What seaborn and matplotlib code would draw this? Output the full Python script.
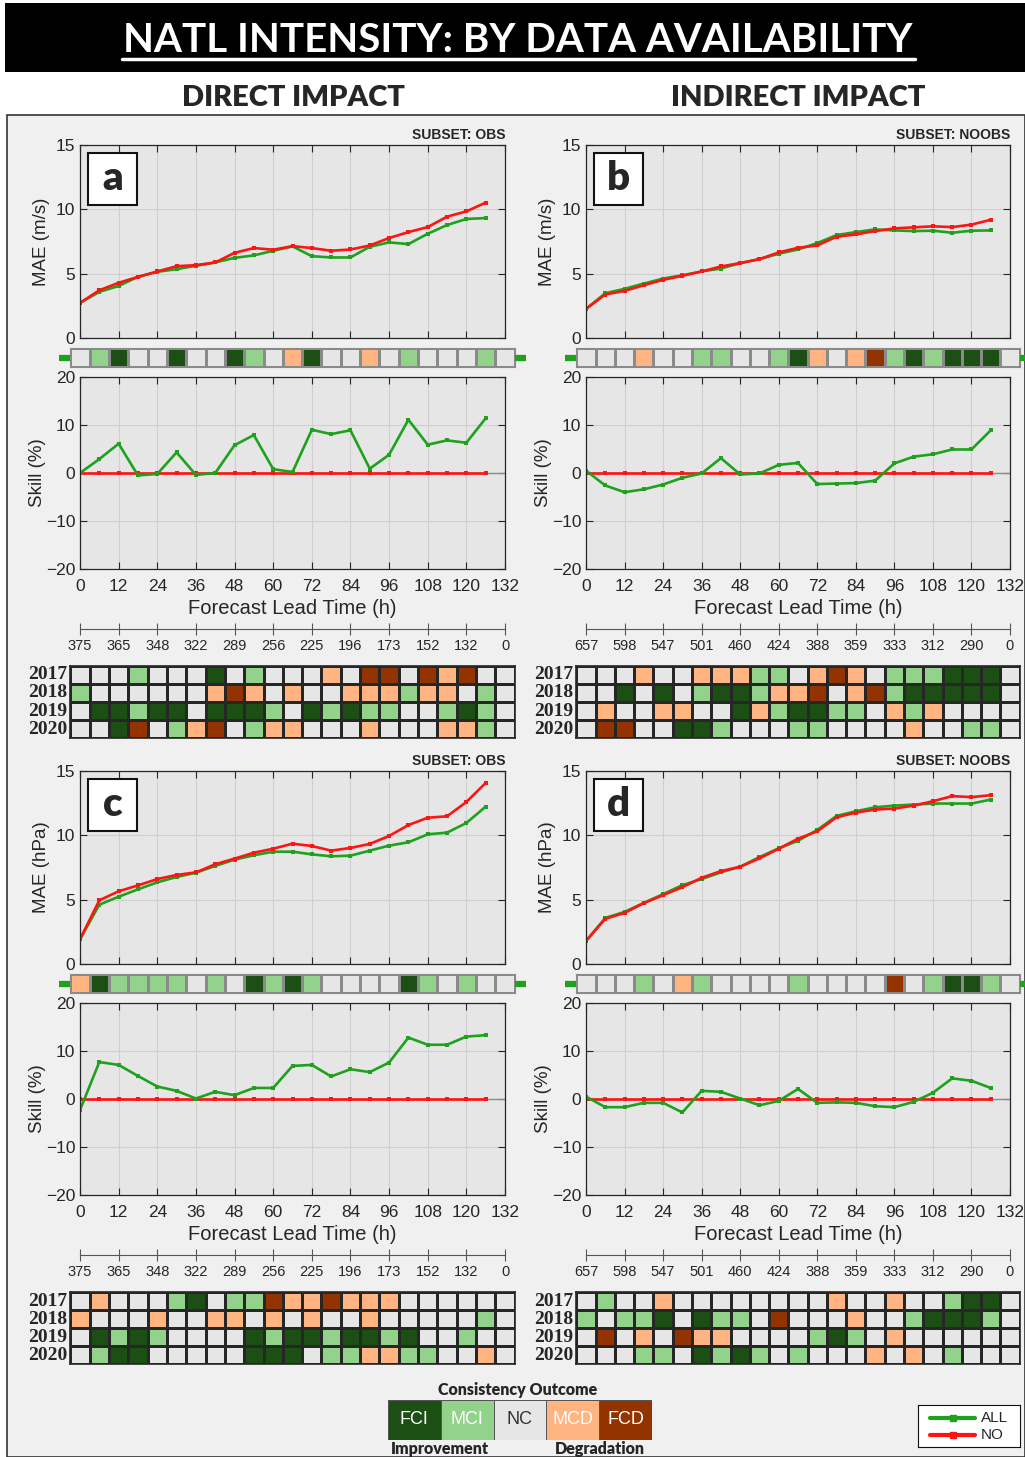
import numpy as np
import seaborn as sns
import matplotlib.pyplot as plt
from matplotlib.colors import ListedColormap
from matplotlib.patches import Rectangle
from matplotlib.lines import Line2D

# ---------------- data ----------------
lead = [0, 6, 12, 18, 24, 30, 36, 42, 48, 54, 60, 66, 72, 78, 84, 90, 96, 102, 108, 114, 120, 126]
years = ["2017", "2018", "2019", "2020"]
outcomes = ["FCI", "MCI", "NC", "MCD", "FCD"]
outcome_code = {"F": 0, "L": 1, "N": 2, "M": 3, "D": 4}
sec_obs = ["375", "365", "348", "322", "289", "256", "225", "196", "173", "152", "132", "0"]
sec_noobs = ["657", "598", "547", "501", "460", "424", "388", "359", "333", "312", "290", "0"]

skill_no = [0, 0, 0, 0, 0, 0, 0, 0, 0, 0, 0, 0, 0, 0, 0, 0, 0, 0, 0, 0, 0, 0]

# panel a: Vmax, OBS
a_mae_all = [2.73, 3.58, 4.05, 4.75, 5.14, 5.35, 5.61, 5.87, 6.23, 6.42, 6.78, 7.12,
             6.36, 6.26, 6.26, 7.09, 7.43, 7.30, 8.10, 8.78, 9.25, 9.32]
a_mae_no = [2.73, 3.71, 4.29, 4.75, 5.17, 5.58, 5.66, 5.87, 6.62, 6.99, 6.86, 7.14,
            6.99, 6.78, 6.88, 7.19, 7.77, 8.23, 8.62, 9.43, 9.84, 10.52]
a_skill_all = [0.0, 2.9, 6.1, -0.5, -0.2, 4.3, -0.4, 0.0, 5.8, 7.9, 0.8, 0.2,
               9.0, 8.1, 8.9, 0.9, 3.8, 11.1, 5.9, 6.8, 6.3, 11.4]
a_strip = "NLFNNFNNFLNMFNNMNLNNNLN"
a_years = ["NNNLNNNFNLNNNMNDDNDMDNN",
           "LNNNNNNMDMNMNNMMMLMMNLN",
           "NFFLFFNFFFLNFLFLLNNLFLN",
           "NNFDNLMDNLMMNNNMNNNMMLN"]

# panel b: Vmax, NOOBS
b_mae_all = [2.26, 3.48, 3.82, 4.23, 4.62, 4.88, 5.17, 5.40, 5.82, 6.13, 6.55, 6.88,
             7.38, 8.00, 8.23, 8.44, 8.36, 8.31, 8.34, 8.18, 8.34, 8.36]
b_mae_no = [2.26, 3.38, 3.66, 4.10, 4.52, 4.83, 5.17, 5.56, 5.82, 6.13, 6.65, 7.01,
            7.19, 7.87, 8.05, 8.31, 8.52, 8.60, 8.68, 8.62, 8.81, 9.19]
b_skill_all = [0.5, -2.6, -4.0, -3.4, -2.4, -1.0, -0.1, 3.1, -0.3, -0.1, 1.7, 2.1,
               -2.3, -2.2, -2.1, -1.6, 2.0, 3.4, 3.9, 4.9, 4.9, 8.9]
b_strip = "NNNMNNLLNNLFMNMDLFLFFFN"
b_years = ["NNNMNNMMMLLNMDMNLLLFFFN",
           "NNFNFNLFFLMMDNMDLFFFFFN",
           "NMNNMMNNFMLFFLLNMLMNNNN",
           "NDDNNFFLNNNLLNNNNMNNLLN"]

# panel c: MSLP, OBS
c_mae_all = [1.92, 4.61, 5.23, 5.80, 6.35, 6.76, 7.10, 7.62, 8.11, 8.45, 8.73, 8.73,
             8.52, 8.37, 8.42, 8.81, 9.20, 9.46, 10.08, 10.21, 10.96, 12.23]
c_mae_no = [1.92, 4.95, 5.65, 6.11, 6.60, 6.92, 7.12, 7.75, 8.19, 8.65, 8.96, 9.35,
            9.17, 8.81, 9.02, 9.33, 9.95, 10.80, 11.37, 11.48, 12.59, 14.07]
c_skill_all = [-2.3, 7.7, 7.1, 4.8, 2.6, 1.7, 0.1, 1.5, 0.8, 2.3, 2.3, 6.9,
               7.1, 4.7, 6.2, 5.6, 7.6, 12.8, 11.3, 11.3, 13.0, 13.3]
c_strip = "MFLLLLNLNFLFLNNNNFLNLNN"
c_years = ["NMNNNLFNLLDMMDMMMNNNNNN",
           "MNNNMNNMMNMNMNNMNNNNNLN",
           "NFLFLNNNNFLFFLFFLFNNLNN",
           "NLFFNNNNNFFFNLLMMLLNNMN"]

# panel d: MSLP, NOOBS
d_mae_all = [1.79, 3.58, 4.05, 4.75, 5.43, 6.13, 6.60, 7.12, 7.56, 8.31, 8.99, 9.58,
             10.42, 11.51, 11.87, 12.18, 12.31, 12.39, 12.47, 12.47, 12.47, 12.78]
d_mae_no = [1.79, 3.51, 3.97, 4.73, 5.35, 5.97, 6.70, 7.22, 7.56, 8.21, 8.96, 9.74,
            10.31, 11.40, 11.77, 12.00, 12.08, 12.31, 12.65, 13.05, 12.97, 13.12]
d_skill_all = [0.5, -1.7, -1.7, -0.8, -0.8, -2.8, 1.7, 1.5, 0.1, -1.3, -0.4, 2.1,
               -0.8, -0.7, -0.8, -1.5, -1.7, -0.6, 1.3, 4.3, 3.8, 2.3]
d_strip = "NNNLNMLNNNNLNNNNDNLFFLN"
d_years = ["NLNNMNNNNNNNNMNNMNNLFFN",
           "LNLLFNFLLNDNNNMNNLFFFLN",
           "NDNMNDMMNNNNLFLNMNNNNNN",
           "NNNLLNFLFLNLNNNMNMNLNNN"]

# ---------------- style ----------------
GREEN = "#1ea21e"
RED = "#ff1414"
OUT_COLORS = ["#1b4f14", "#93d28a", "#e6e6e6", "#ffb482", "#933300"]
cmap = ListedColormap(OUT_COLORS)
SANS = ["Liberation Sans", "DejaVu Sans"]
HEAD = ["Lato", "DejaVu Sans"]
SERIF = ["Liberation Serif", "DejaVu Serif"]

sns.set_style("ticks")
plt.rcParams["font.family"] = SANS
plt.rcParams["axes.edgecolor"] = "#262626"
plt.rcParams["xtick.color"] = "#262626"
plt.rcParams["ytick.color"] = "#262626"

W, H = 1025, 1457
fig = plt.figure(figsize=(W / 100, H / 100), dpi=100)
fig.patch.set_facecolor("white")


def rect(x0, y0, x1, y1):
    return [x0 / W, 1 - y1 / H, (x1 - x0) / W, (y1 - y0) / H]


def fx(x):
    return x / W


def fy(y):
    return 1 - y / H


# background boxes (behind every axes)
fig.patches.append(Rectangle((fx(5), fy(72)), (W - 5) / W, 69 / H, transform=fig.transFigure,
                             facecolor="black", edgecolor="none", zorder=-5))
fig.patches.append(Rectangle((fx(7), 0), (W - 7) / W, (H - 115) / H, transform=fig.transFigure,
                             facecolor="#f0f0f0", edgecolor="#333333", lw=1.2, zorder=-5))

fig.text(fx(518), fy(40), "NATL INTENSITY: BY DATA AVAILABILITY", color="white",
         fontsize=29, fontweight="bold", family=HEAD, ha="center", va="center")
fig.add_artist(Line2D([fx(122), fx(915)], [fy(59), fy(59)], color="white", lw=2.5))
fig.text(fx(293), fy(98), "DIRECT IMPACT", fontsize=21, fontweight="heavy", family=HEAD,
         ha="center", va="center")
fig.text(fx(798), fy(98), "INDIRECT IMPACT", fontsize=21, fontweight="heavy", family=HEAD,
         ha="center", va="center")


def style_axes(ax):
    ax.set_facecolor("#e6e6e6")
    ax.grid(True, color="#cfcfcf", lw=0.8)
    ax.set_axisbelow(True)
    ax.tick_params(direction="in", top=True, right=True, length=5, labelsize=12.5, width=0.8)
    for sp in ax.spines.values():
        sp.set_visible(True)
        sp.set_linewidth(0.9)
        sp.set_color("#262626")


def draw_panel(x0, x1, ytop, letter, subset, ylab, mae_all, mae_no, skill_all, strip,
               year_rows, sec_labels):
    # MAE
    ax = fig.add_axes(rect(x0, ytop, x1, ytop + 193))
    style_axes(ax)
    sns.lineplot(x=lead, y=mae_all, color=GREEN, marker="s", markersize=3.5,
                 markeredgewidth=0, lw=1.9, ax=ax)
    sns.lineplot(x=lead, y=mae_no, color=RED, marker="s", markersize=3.5,
                 markeredgewidth=0, lw=1.9, ax=ax)
    ax.set_xlim(0, 132)
    ax.set_ylim(0, 15)
    ax.set_xticks(range(0, 133, 12))
    ax.set_xticklabels([])
    ax.set_yticks([0, 5, 10, 15])
    ax.set_ylabel(ylab, fontsize=13.5, labelpad=4)
    ax.text(1.0, 1.015, "SUBSET: " + subset, transform=ax.transAxes, ha="right", va="bottom",
            fontsize=10, fontweight="bold")
    fig.patches.append(Rectangle((fx(x0 + 8), fy(ytop + 60)), 49 / W, 52 / H,
                                 transform=fig.transFigure, facecolor="white",
                                 edgecolor="#111111", lw=1.5, zorder=5))
    fig.text(fx(x0 + 32.5), fy(ytop + 34), letter, fontsize=29, fontweight="heavy",
             family=HEAD, ha="center", va="center", zorder=6)

    # skill
    ax2 = fig.add_axes(rect(x0, ytop + 232, x1, ytop + 424))
    style_axes(ax2)
    ax2.axhline(0, color="#8c8c8c", lw=1.0, zorder=1)
    sns.lineplot(x=lead, y=skill_no, color=RED, marker="s", markersize=3.5,
                 markeredgewidth=0, lw=1.9, ax=ax2)
    sns.lineplot(x=lead, y=skill_all, color=GREEN, marker="s", markersize=3.5,
                 markeredgewidth=0, lw=1.9, ax=ax2)
    ax2.set_xlim(0, 132)
    ax2.set_ylim(-20, 20)
    ax2.set_xticks(range(0, 133, 12))
    ax2.set_yticks([-20, -10, 0, 10, 20])
    ax2.tick_params(axis="x", pad=7)
    ax2.set_ylabel("Skill (%)", fontsize=13.5, labelpad=0)
    ax2.set_xlabel("Forecast Lead Time (h)", fontsize=14.5, labelpad=4)

    # secondary sample-size axis
    ax3 = fig.add_axes(rect(x0, ytop + 482, x1, ytop + 484))
    ax3.set_facecolor("none")
    for name, sp in ax3.spines.items():
        sp.set_visible(name == "bottom")
    ax3.spines["bottom"].set_color("#555555")
    ax3.set_xlim(0, 132)
    ax3.set_xticks(range(0, 133, 12))
    ax3.set_xticklabels(sec_labels)
    ax3.set_yticks([])
    ax3.tick_params(axis="x", direction="inout", length=8, labelsize=10.5, pad=3,
                    color="#555555")

    # consistency strip
    pxh = (x1 - x0) / 132
    sx0, sx1 = x0 - 3 * pxh, x0 + 135 * pxh
    axs = fig.add_axes(rect(sx0, ytop + 203, sx1, ytop + 222))
    sns.heatmap(np.array([[outcome_code[c] for c in strip]]), cmap=cmap, vmin=-0.5, vmax=4.5,
                cbar=False, linewidths=0.8, linecolor="#8a8a8a", xticklabels=False,
                yticklabels=False, ax=axs)
    for sp in axs.spines.values():
        sp.set_visible(True)
        sp.set_color("#8a8a8a")
    ym = fy(ytop + 212.5)
    fig.add_artist(Line2D([fx(sx0 - 11), fx(sx0)], [ym, ym], color=GREEN, lw=4.5,
                          solid_capstyle="butt"))
    fig.add_artist(Line2D([fx(sx1), fx(min(sx1 + 11, W))], [ym, ym], color=GREEN, lw=4.5,
                          solid_capstyle="butt"))

    # yearly consistency grid
    axh = fig.add_axes(rect(sx0, ytop + 521, sx1, ytop + 593))
    grid = np.array([[outcome_code[c] for c in row] for row in year_rows])
    sns.heatmap(grid, cmap=cmap, vmin=-0.5, vmax=4.5, cbar=False, linewidths=1.0,
                linecolor="#262626", xticklabels=False, yticklabels=years, ax=axh)
    for sp in axh.spines.values():
        sp.set_visible(True)
        sp.set_color("#262626")
        sp.set_linewidth(1.2)
    axh.tick_params(axis="y", length=0, pad=2)
    for t in axh.get_yticklabels():
        t.set_rotation(0)
        t.set_family(SERIF)
        t.set_fontweight("bold")
        t.set_fontsize(14)


draw_panel(80, 505, 145, "a", "OBS", "MAE (m/s)", a_mae_all, a_mae_no, a_skill_all,
           a_strip, a_years, sec_obs)
draw_panel(586, 1010, 145, "b", "NOOBS", "MAE (m/s)", b_mae_all, b_mae_no, b_skill_all,
           b_strip, b_years, sec_noobs)
draw_panel(80, 505, 771, "c", "OBS", "MAE (hPa)", c_mae_all, c_mae_no, c_skill_all,
           c_strip, c_years, sec_obs)
draw_panel(586, 1010, 771, "d", "NOOBS", "MAE (hPa)", d_mae_all, d_mae_no, d_skill_all,
           d_strip, d_years, sec_noobs)

# consistency outcome legend
axl = fig.add_axes(rect(388, 1400, 652, 1440))
sns.heatmap(np.array([[0, 1, 2, 3, 4]]), cmap=cmap, vmin=-0.5, vmax=4.5, cbar=False,
            annot=np.array([outcomes]), fmt="", annot_kws={"fontsize": 13},
            linewidths=0.6, linecolor="#555555", xticklabels=False, yticklabels=False, ax=axl)
for t in axl.texts:
    t.set_color("#333333" if t.get_text() == "NC" else "white")
    t.set_family(SANS)
fig.text(fx(518), fy(1390), "Consistency Outcome", fontsize=11.5, fontweight="heavy",
         family=HEAD, ha="center", va="center")
fig.text(fx(440), fy(1449), "Improvement", fontsize=11.5, fontweight="heavy",
         family=HEAD, ha="center", va="center")
fig.text(fx(600), fy(1449), "Degradation", fontsize=11.5, fontweight="heavy",
         family=HEAD, ha="center", va="center")

# line legend
axg = fig.add_axes(rect(918, 1405, 1020, 1447))
axg.set_facecolor("white")
axg.set_xlim(0, 1)
axg.set_ylim(0, 1)
axg.set_xticks([])
axg.set_yticks([])
for sp in axg.spines.values():
    sp.set_visible(True)
    sp.set_color("#111111")
for yv, col, lab in [(0.7, GREEN, "ALL"), (0.28, RED, "NO")]:
    axg.plot([0.12, 0.56], [yv, yv], color=col, lw=3)
    axg.plot([0.34], [yv], color=col, marker="s", markersize=5)
    axg.text(0.62, yv, lab, fontsize=11, va="center", ha="left")

fig.savefig("out.png", dpi=100)
